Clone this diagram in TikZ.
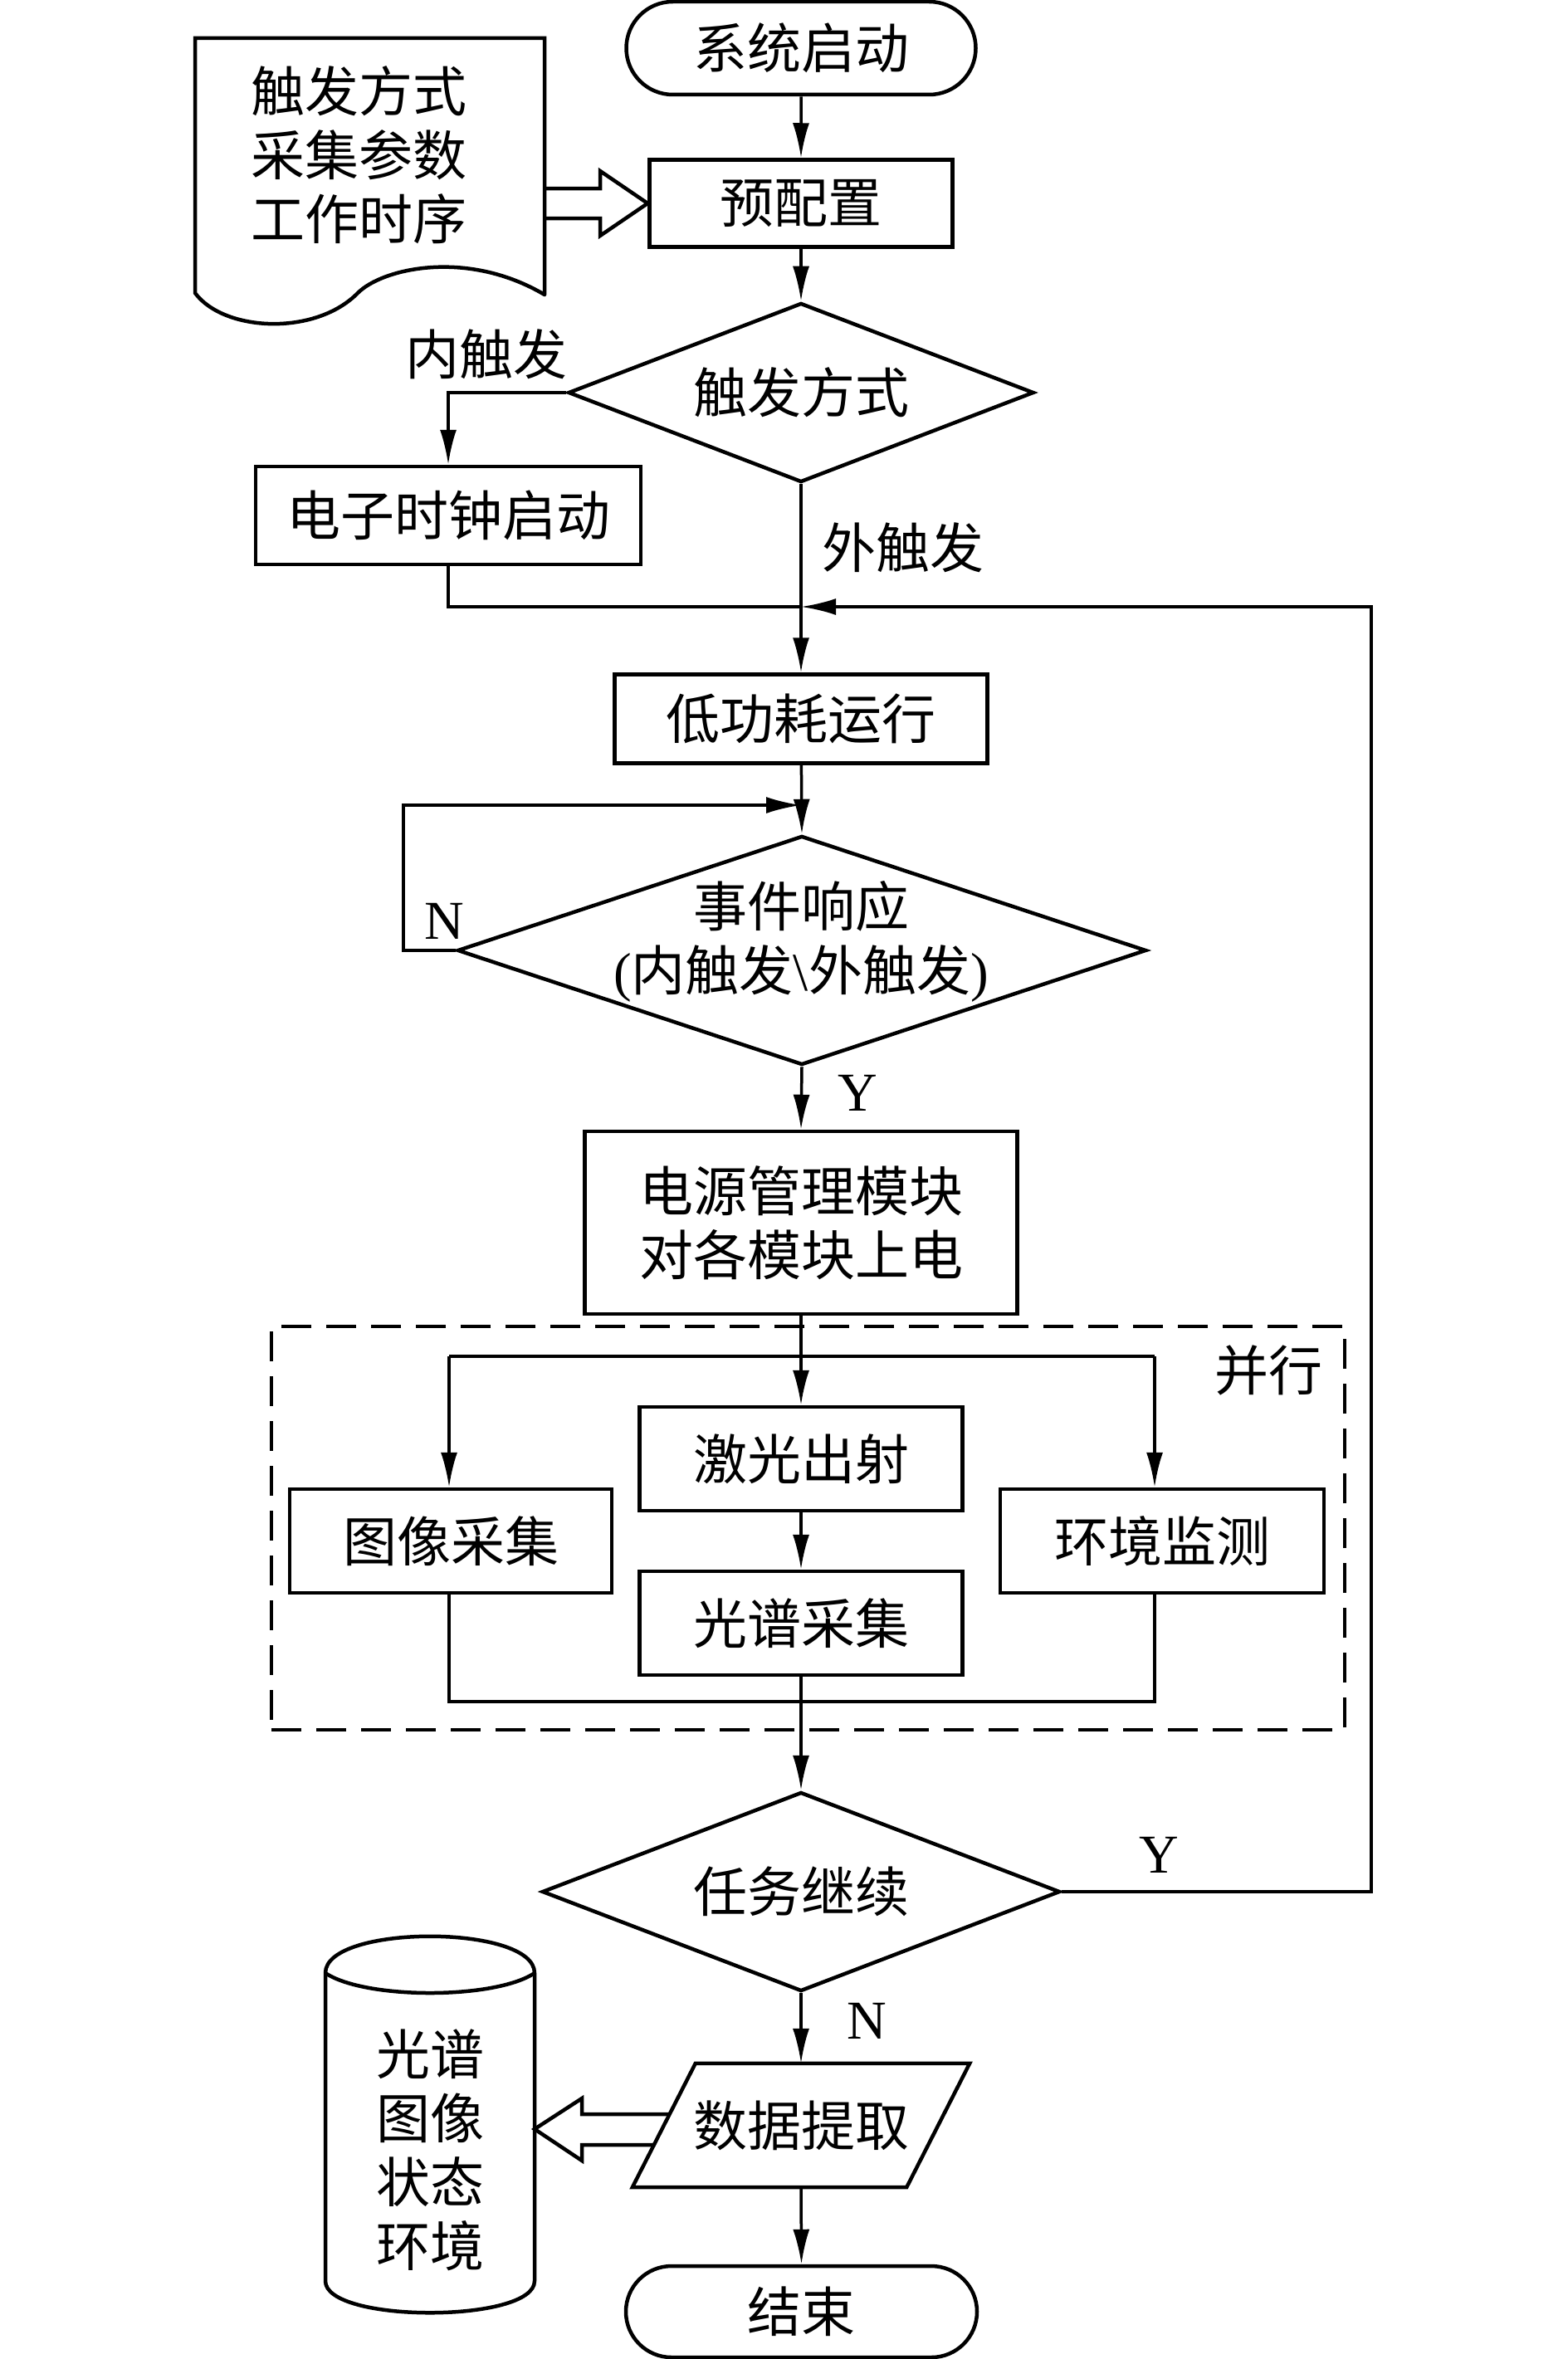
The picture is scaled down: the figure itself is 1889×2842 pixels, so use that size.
\documentclass[tikz,border=0pt]{standalone}
\usepackage{fontspec}
\setmainfont{Noto Sans CJK SC}
\newfontfamily\lat{Liberation Serif}
\usetikzlibrary{shapes.misc,shapes.geometric,arrows.meta,calc}
\begin{document}
\begin{tikzpicture}[x=1pt,y=-1pt,
  every node/.style={font=\fontsize{65}{77}\selectfont, inner sep=0pt, align=center},
  proc/.style={draw, line width=4.5pt, rectangle},
  term/.style={draw, line width=4.5pt, rounded rectangle},
  cond/.style={draw, line width=4.5pt, diamond, shape aspect=2.6},
  conn/.style={line width=3.5pt},
  arr/.style={conn, -{Latex[length=42pt,width=20pt]}},
  hollow/.style={line width=4.5pt, line join=miter},
  lab/.style={font=\lat\fontsize{66}{70}\selectfont},
  dashbox/.style={draw, line width=4.5pt, dash pattern=on 36pt off 18pt},
]
\useasboundingbox (0,0) rectangle (1889,2842);

% ---- nodes ----
\node[term, minimum width=421, minimum height=112] (start) at (965,58) {系统启动};
\node[proc, minimum width=365, minimum height=105] (pre) at (965,245) {预配置};
\node[cond, minimum width=561, minimum height=216] (trig) at (965,473) {触发方式};
\node[proc, minimum width=464, minimum height=118] (elec) at (540,621) {电子时钟启动};
\node[proc, minimum width=449, minimum height=107] (low) at (965,866) {低功耗运行};
\node[cond, minimum width=830, minimum height=276] (evt) at (966,1145) {};
\node (evtt) at (965,1134) {事件响应\\{\lat(}内触发{\lat\textbackslash}外触发{\lat)}};
\node[proc, minimum width=521, minimum height=220] (power) at (965,1473) {电源管理模块\\对各模块上电};
\node[dashbox, minimum width=1293, minimum height=486] (par) at (973.5,1841) {};
\node (partxt) at (1528,1651) {并行};
\node[proc, minimum width=389, minimum height=125] (laser) at (965,1757.5) {激光出射};
\node[proc, minimum width=389, minimum height=125] (spec) at (965,1955.5) {光谱采集};
\node[proc, minimum width=388, minimum height=125] (img) at (543,1856.5) {图像采集};
\node[proc, minimum width=390, minimum height=125] (env) at (1400,1856.5) {环境监测};
\node[cond, minimum width=624, minimum height=240] (cont) at (965,2279) {任务继续};
\node[minimum width=330, minimum height=149] (data) at (965,2560.5) {数据提取};
\node[term, minimum width=423, minimum height=110] (end) at (965.5,2785) {结束};

% document shape
\node (doc) at (432,187) {触发方式\\采集参数\\工作时序};
\draw[line width=4.5pt, line join=miter, line cap=round]
  (656,355) -- (656,46) -- (235,46) -- (235,353)
  .. controls (270,400) and (380,405) .. (431,353)
  .. controls (461,323) and (563,300) .. (656,355);

% parallelogram
\draw[line width=4.5pt, line join=miter]
  ($(data.north west)+(38,0)$) -- ($(data.north east)+(38,0)$)
  -- ($(data.south east)+(-38,0)$) -- ($(data.south west)+(-38,0)$) -- cycle;

% cylinder
\node (db) at (518,2590) {光谱\\图像\\状态\\环境};
\draw[line width=4.5pt]
  (392,2377) .. controls (392,2318) and (644,2318) .. (644,2377)
  -- (644,2748) .. controls (644,2799) and (392,2799) .. (392,2748) -- cycle;
\draw[line width=4.5pt]
  (392,2377) .. controls (440,2409) and (596,2409) .. (644,2377);

% labels
\node (lin) at (586,427) {内触发};
\node (lout) at (1088,660) {外触发};
\node[lab] (lN1) at (535,1110) {N};
\node[lab] (lY1) at (1033,1317) {Y};
\node[lab] (lY2) at (1396,2235) {Y};
\node[lab] (lN2) at (1044,2435) {N};

% coordinates
\coordinate (join) at (965,731);
\coordinate (loopY) at (1652,731);
\coordinate (loopN) at (965,970);
\coordinate (fork) at (965,1634);
\coordinate (forkL) at (541,1634);
\coordinate (forkR) at (1391,1634);
\coordinate (joinL) at (541,2050);
\coordinate (joinR) at (1391,2050);

% ---- connectors ----
\draw[arr] (start) -- (pre);
\draw[arr] (pre) -- (trig);
\draw[arr] (trig.west) -| (elec.north);
\draw[conn] (elec.south) |- (join);
\draw[arr] (trig.south) -- (low.north);
\draw[arr] (low) -- (evt.north);
\draw[arr] (evt.west) -- ++(-63,0) |- (loopN);
\draw[arr] (evt.south) -- (power.north);
\draw[conn] (power.south) -- (fork);
\draw[arr] (fork) -- (laser.north);
\draw[conn] (forkL) -- (forkR);
\draw[arr] (forkL) -- (forkL |- img.north);
\draw[arr] (forkR) -- (forkR |- env.north);
\draw[arr] (laser) -- (spec);
\draw[conn] (joinL |- img.south) -- (joinL) -- (joinR) -- (joinR |- env.south);
\draw[arr] (spec.south) -- (cont.north);
\draw[arr] (cont.east) -| (loopY) -- (join);
\draw[arr] (cont.south) -- (data.north);
\draw[arr] (data.south) -- (end.north);

% hollow arrows
\draw[hollow] (656,227) -- (723,227) -- (723,206) -- (pre.west) -- (723,284) -- (723,263) -- (656,263);
\draw[hollow] (807,2547) -- (701,2547) -- (701,2528) -- (644,2565) -- (701,2603) -- (701,2584) -- (789,2584);
\end{tikzpicture}
\end{document}
